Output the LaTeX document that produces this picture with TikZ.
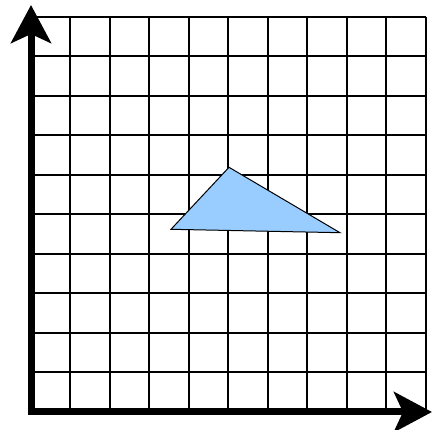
\documentclass[tikz,border=0pt]{standalone}
\usetikzlibrary{arrows.meta}
\definecolor{triblue}{HTML}{99CCFF}
\begin{document}
\begin{tikzpicture}[x=1pt,y=-1pt,
  gridline/.style={line width=2pt,black},
  axisline/.style={line width=7pt,black,-{Stealth[length=38pt,width=40pt,inset=9pt]}},
  tri/.style={fill=triblue,draw=black,line width=1pt,line join=miter}]
\useasboundingbox (0,0) rectangle (432,430);
% grid
\foreach \k in {0,...,10}{
  \draw[gridline] (30.5,{17+39.5*\k}) -- (426,{17+39.5*\k});
  \draw[gridline] ({30.5+39.5*\k},17) -- ({30.5+39.5*\k},412);
}
% triangle
\draw[tri] (229,167.3) -- (340,232.7) -- (171,229.3) -- cycle;
% axes
\coordinate (origin) at (31,412);
\coordinate (ytip) at (31,5);
\coordinate (xtip) at (432,412);
\draw[axisline] ([yshift=3.5pt]origin) -- (ytip);
\draw[axisline] ([xshift=-3.5pt]origin) -- (xtip);
\end{tikzpicture}
\end{document}
